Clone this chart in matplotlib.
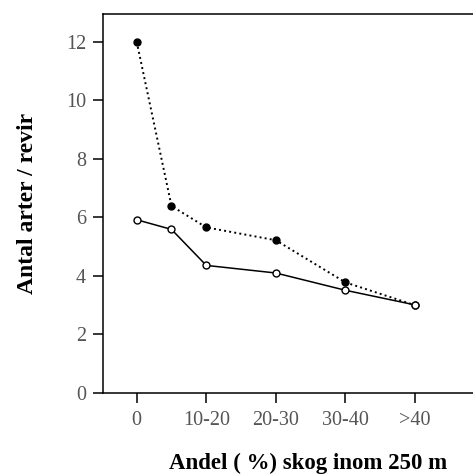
import matplotlib.pyplot as plt

plt.rcParams['font.family'] = ['Liberation Serif', 'DejaVu Serif']

# x positions of the classes (0-10 sits unlabelled between 0 and 10-20)
x_pos = [0, 0.5, 1, 2, 3, 4]
tick_pos = [0, 1, 2, 3, 4]
tick_labels = ['0', '10-20', '20-30', '30-40', '>40']

# species per territory
open_vals = [5.92, 5.59, 4.36, 4.10, 3.51, 3.01]
filled_vals = [12.0, 6.39, 5.66, 5.22, 3.78, 3.0]

fig = plt.figure(figsize=(4.73, 4.74), dpi=100)
ax = fig.add_axes([0.217, 0.171, 0.819, 0.8005])

ax.plot(x_pos, filled_vals, color='black', linestyle=':', linewidth=1.4,
        marker='o', markersize=5, markerfacecolor='black', markeredgecolor='black', zorder=2)
ax.plot(x_pos, open_vals, color='black', linestyle='-', linewidth=1.1,
        marker='o', markersize=5, markerfacecolor='white', markeredgecolor='black',
        markeredgewidth=1.0, zorder=3)

ax.set_xlim(-0.49, 5.08)
ax.set_ylim(0, 12.97)
ax.set_xticks(tick_pos)
ax.set_xticklabels(tick_labels)
ax.set_yticks([0, 2, 4, 6, 8, 10, 12])

for s in ax.spines.values():
    s.set_linewidth(1.1)
ax.tick_params(direction='out', length=7, width=1.1, labelsize=14.5,
               labelcolor='#555555')
ax.tick_params(axis='x', pad=6)
ax.tick_params(axis='y', pad=5)

ax.set_ylabel('Antal arter / revir', fontsize=17, fontweight='bold', labelpad=20)
fig.text(0.652, 0.022, 'Andel ( %) skog inom 250 m', fontsize=16.5,
         fontweight='bold', ha='center', va='center')

fig.savefig('out.png', dpi=100)
